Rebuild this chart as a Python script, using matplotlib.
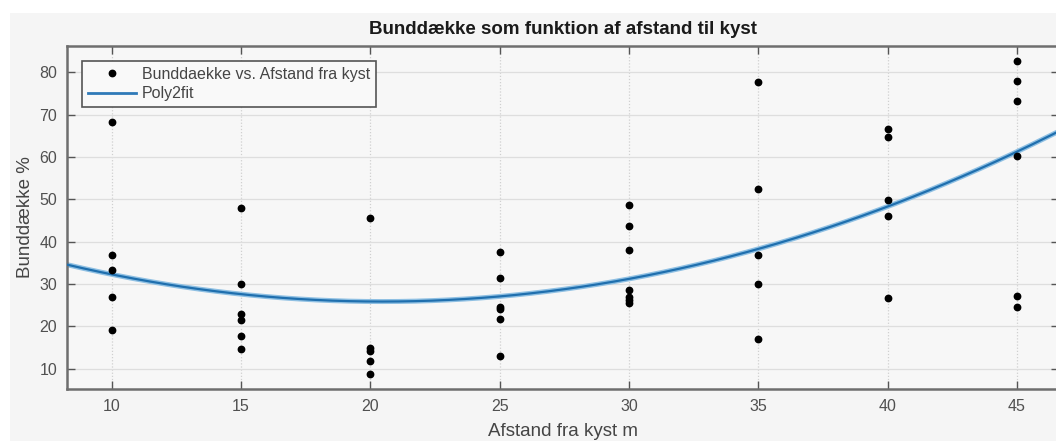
import numpy as np
import matplotlib
matplotlib.use("Agg")
import matplotlib.pyplot as plt
from matplotlib.patches import Rectangle
from matplotlib.lines import Line2D

plt.rcParams["font.family"] = ["Liberation Sans", "DejaVu Sans"]

# Distance from shore (m) and bottom cover (%) per transect station
afstand_10 = [68.3, 36.8, 33.2, 26.9, 19.2]
afstand_15 = [47.9, 30.0, 23.0, 21.6, 17.7, 14.7]
afstand_20 = [45.5, 14.9, 14.2, 11.7, 8.8]
afstand_25 = [37.6, 31.3, 24.6, 24.1, 21.7, 12.9]
afstand_30 = [48.6, 43.8, 38.0, 28.5, 26.9, 26.2, 25.4]
afstand_35 = [77.7, 52.5, 36.9, 29.9, 17.0]
afstand_40 = [66.7, 64.6, 49.8, 46.1, 26.6]
afstand_45 = [82.6, 77.9, 73.1, 60.2, 27.1, 24.5]

stations = [10, 15, 20, 25, 30, 35, 40, 45]
cover = [afstand_10, afstand_15, afstand_20, afstand_25,
         afstand_30, afstand_35, afstand_40, afstand_45]

x = np.concatenate([[s] * len(c) for s, c in zip(stations, cover)]).astype(float)
y = np.concatenate(cover).astype(float)

x_ticks = [10, 15, 20, 25, 30, 35, 40, 45]
y_ticks = [10, 20, 30, 40, 50, 60, 70, 80]

# second-order polynomial fit
coef = np.polyfit(x, y, 2)

W, H = 1056, 441
fig = plt.figure(figsize=(W / 100, H / 100), dpi=100, facecolor="#f5f5f5")
# white margin strips along the top and left edge
fig.patches.append(Rectangle((0, 1 - 13 / H), 1, 13 / H, transform=fig.transFigure,
                             facecolor="white", edgecolor="none", zorder=-1))
fig.patches.append(Rectangle((0, 0), 10 / W, 1, transform=fig.transFigure,
                             facecolor="white", edgecolor="none", zorder=-1))

left, right, top, bottom = 67, 1058.5, 46, 389
ax = fig.add_axes([left / W, 1 - bottom / H, (right - left) / W, (bottom - top) / H])
ax.set_facecolor("#f7f7f7")

xmin = 8.27
xmax = xmin + (right - left) / 25.86
ax.set_xlim(xmin, xmax)
ax.set_ylim(5.2, 86.2)

ax.set_xticks(x_ticks)
ax.set_yticks(y_ticks)
ax.tick_params(direction="in", length=6, width=1.0, color="#555555",
               labelcolor="#505050", labelsize=11.5, top=True, right=True, pad=7)
for sp in ax.spines.values():
    sp.set_color("#6e6e6e")
    sp.set_linewidth(1.8)

ax.grid(True, axis="y", color="#dedede", linewidth=0.9, linestyle="-")
ax.grid(True, axis="x", color="#d0d0d0", linewidth=0.9, linestyle=(0, (1, 1.5)))
ax.set_axisbelow(True)

xf = np.linspace(xmin, xmax, 300)
ax.plot(xf, np.polyval(coef, xf), color="#8fc0e3", linewidth=3.6, solid_capstyle="butt", zorder=2)
ax.plot(xf, np.polyval(coef, xf), color="#1f6fae", linewidth=1.6, zorder=3)
ax.plot(x, y, linestyle="none", marker="o", markersize=4.6, color="black", zorder=4)

ax.set_title("Bunddække som funktion af afstand til kyst", fontsize=13.5,
             fontweight="bold", color="#1a1a1a", pad=9)
ax.set_xlabel("Afstand fra kyst m", fontsize=13.5, color="#454545", labelpad=6.5)
ax.set_ylabel("Bunddække %", fontsize=13.5, color="#454545", labelpad=4)

handles = [Line2D([], [], linestyle="none", marker="o", markersize=4.6, color="black"),
           Line2D([], [], color="#2f7ab8", linewidth=2)]
leg = ax.legend(handles, ["Bunddaekke vs. Afstand fra kyst", "Poly2fit"],
                loc="upper left", bbox_to_anchor=(15 / (right - left), 1 - 15 / (bottom - top)),
                fontsize=11.5, frameon=True, fancybox=False, borderaxespad=0,
                handlelength=3.0, handletextpad=0.4, labelspacing=0.3,
                borderpad=0.35)
leg.get_frame().set_edgecolor("#555555")
leg.get_frame().set_linewidth(1.2)
leg.get_frame().set_facecolor("#f9f9f9")
leg.get_frame().set_alpha(1)
for t in leg.get_texts():
    t.set_color("#454545")

fig.savefig("out.png", dpi=100, facecolor=fig.get_facecolor())
